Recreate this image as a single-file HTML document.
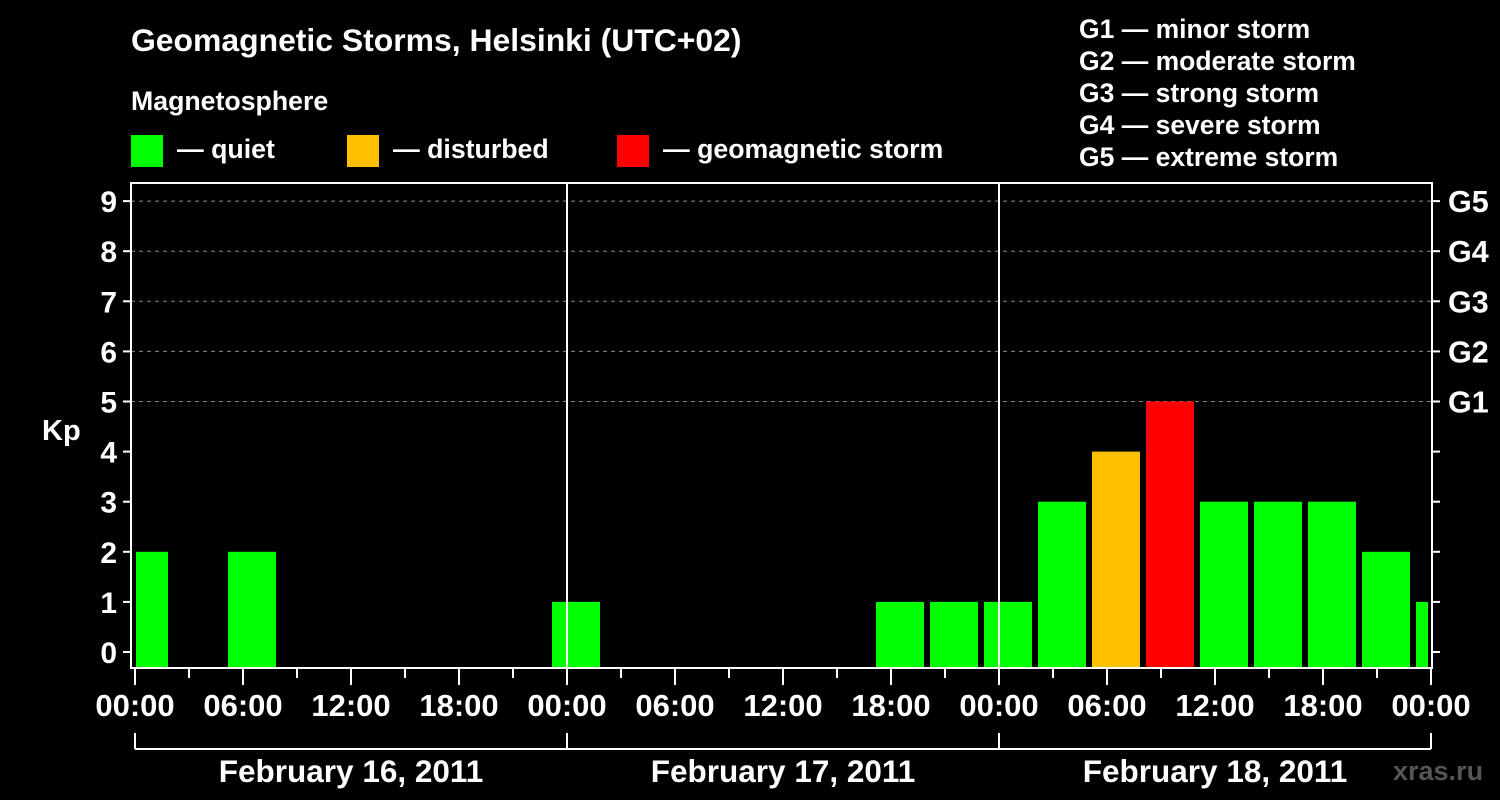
<!DOCTYPE html>
<html><head><meta charset="utf-8"><style>
body{margin:0;background:#000;}
svg{display:block;font-family:"Liberation Sans",Arial,sans-serif;font-weight:bold;}
</style></head><body>
<svg id="chart" width="1500" height="800" viewBox="0 0 1500 800">
<rect width="1500" height="800" fill="#000"/>
<text x="131" y="51" fill="#fff" font-size="31.9">Geomagnetic Storms, Helsinki (UTC+02)</text>
<text x="131" y="110" fill="#fff" font-size="26.7">Magnetosphere</text>
<g><rect x="131" y="135" width="32" height="32" fill="#00ff00"/><text x="177" y="158" fill="#fff" font-size="26.7">— quiet</text></g>
<g><rect x="347" y="135" width="32" height="32" fill="#ffc000"/><text x="393" y="158" fill="#fff" font-size="26.7">— disturbed</text></g>
<g><rect x="617" y="135" width="32" height="32" fill="#ff0000"/><text x="663" y="158" fill="#fff" font-size="26.7">— geomagnetic storm</text></g>
<g fill="#fff" font-size="26.5">
<text x="1079" y="38">G1 — minor storm</text>
<text x="1079" y="70">G2 — moderate storm</text>
<text x="1079" y="102">G3 — strong storm</text>
<text x="1079" y="134">G4 — severe storm</text>
<text x="1079" y="166">G5 — extreme storm</text>
</g>
<text x="42" y="440" fill="#fff" font-size="29">Kp</text>
<g id="grid"></g><g id="bars"></g><g id="axes"></g>
<text x="1393" y="780" fill="#555" font-size="27">xras.ru</text>
</svg>
<script>
const kpValues=[2,0,2,0,0,0,0,0, 1,0,0,0,0,0,1,1, 1,3,4,5,3,3,3,2, 1];
const dayLabels=["February 16, 2011","February 17, 2011","February 18, 2011"];
const hourLabels=["00:00","06:00","12:00","18:00"];
const gLabels=["G1","G2","G3","G4","G5"];
const kpTicks=[0,1,2,3,4,5,6,7,8,9];
const NS="http://www.w3.org/2000/svg";
const X0=135,PXH=18,LEFT=131,RIGHT=1432,TOP=183,BOT=668;
const xs=h=>X0+h*PXH;
const ys=k=>652-k*50.1;
function mk(t,a,p){const e=document.createElementNS(NS,t);for(const k in a)e.setAttribute(k,a[k]);p.appendChild(e);return e;}
const grid=document.getElementById('grid'),bars=document.getElementById('bars'),axes=document.getElementById('axes');
for(let k=5;k<=9;k++){const l=mk('line',{x1:LEFT,x2:RIGHT,y1:ys(k),y2:ys(k),stroke:'#888','stroke-dasharray':'4,4','stroke-width':1},grid);

}
kpValues.forEach((v,i)=>{if(v<=0)return;
let c=i*3+0.5;let x1=Math.max(xs(c)-24,LEFT+5),x2=Math.min(xs(c)+24,RIGHT-4);
const col=v>=5?'#ff0000':(v>=4?'#ffc000':'#00ff00');
const r=mk('rect',{x:x1,y:ys(v),width:x2-x1,height:BOT-ys(v),fill:col},bars);

});
for(let d=1;d<3;d++){const l=mk('line',{x1:xs(d*24),x2:xs(d*24),y1:TOP,y2:BOT,stroke:'#fff','stroke-width':2},axes);

}
const fr=mk('rect',{x:LEFT,y:TOP,width:RIGHT-LEFT,height:BOT-TOP,fill:'none',stroke:'#fff','stroke-width':2},axes);


kpTicks.forEach(k=>{mk('line',{x1:LEFT-8,x2:LEFT,y1:ys(k),y2:ys(k),stroke:'#fff','stroke-width':2},axes);
mk('line',{x1:RIGHT,x2:RIGHT+8,y1:ys(k),y2:ys(k),stroke:'#fff','stroke-width':2},axes);
const t=mk('text',{x:LEFT-14,y:ys(k)+11,fill:'#fff','font-size':30,'text-anchor':'end'},axes);t.textContent=k;

});
gLabels.forEach((g,i)=>{const t=mk('text',{x:1448,y:ys(i+5)+11,fill:'#fff','font-size':30.5},axes);t.textContent=g;

});
for(let h=0;h<=72;h+=3){const major=h%6===0;
mk('line',{x1:xs(h),x2:xs(h),y1:BOT,y2:BOT+(major?17:10),stroke:'#fff','stroke-width':2},axes);
if(major){const t=mk('text',{x:xs(h),y:716,fill:'#fff','font-size':31,'text-anchor':'middle'},axes);t.textContent=hourLabels[(h/6)%4];

}}
mk('line',{x1:xs(0),x2:xs(72),y1:749,y2:749,stroke:'#fff','stroke-width':2},axes);
for(let d=0;d<=3;d++)mk('line',{x1:xs(d*24),x2:xs(d*24),y1:733,y2:749,stroke:'#fff','stroke-width':2},axes);
dayLabels.forEach((s,d)=>{const t=mk('text',{x:xs(d*24+12),y:782,fill:'#fff','font-size':31.5,'text-anchor':'middle'},axes);t.textContent=s;

});
</script>
</body></html>
